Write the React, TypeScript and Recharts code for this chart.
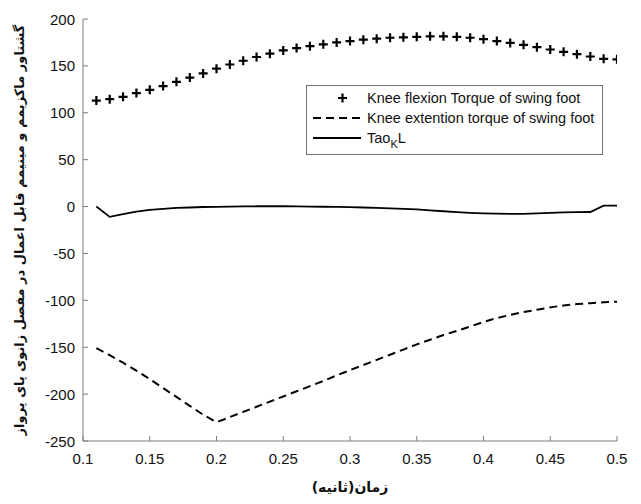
import React from 'react';
import { LineChart, Line, XAxis, YAxis, Label, Customized } from 'recharts';

const times = [0.11, 0.12, 0.13, 0.14, 0.15, 0.16, 0.17, 0.18, 0.19, 0.2,
  0.21, 0.22, 0.23, 0.24, 0.25, 0.26, 0.27, 0.28, 0.29, 0.3,
  0.31, 0.32, 0.33, 0.34, 0.35, 0.36, 0.37, 0.38, 0.39, 0.4,
  0.41, 0.42, 0.43, 0.44, 0.45, 0.46, 0.47, 0.48, 0.49, 0.5];

const flexionTorque = [113, 114.5, 117, 121, 124.5, 128.5, 133, 137.5, 142, 147,
  151.5, 155.5, 159.5, 163, 166.5, 169, 171, 173, 175, 176.5,
  178, 179, 180, 180.5, 181, 181.5, 181.5, 181, 180, 178.5,
  176.5, 174.5, 172.5, 170, 167.5, 165, 162.5, 160, 157.5, 157];

const extensionTorque = [-151, -158.5, -166.5, -175, -184, -193.5, -203, -212.5, -222, -230,
  -224.5, -219, -213.5, -208, -202.5, -197, -191.5, -186, -180, -174.5,
  -169, -163.5, -158, -152.5, -147, -142, -137, -132.5, -128, -123,
  -119, -115.5, -112.5, -110, -107.5, -105.5, -104, -103, -102, -101.5];

const taoKL = [0, -11, -8, -5.5, -3.5, -2.5, -1.5, -1, -0.5, -0.3,
  0, 0.2, 0.3, 0.3, 0.3, 0.2, 0, -0.2, -0.4, -0.6,
  -1, -1.5, -2, -2.5, -3, -4, -5, -6, -6.8, -7.3,
  -7.6, -7.8, -7.7, -7.3, -6.8, -6.3, -6, -5.8, 1, 1];

const xTicks = [0.1, 0.15, 0.2, 0.25, 0.3, 0.35, 0.4, 0.45, 0.5];
const yTicks = [-250, -200, -150, -100, -50, 0, 50, 100, 150, 200];

const legendLabels = ['Knee flexion Torque of swing foot', 'Knee extention torque of swing foot'];
const xLabel = 'زمان(ثانیه)';
const yLabel = 'گشتاور ماکزیمم و مینیمم قابل اعمال در مفصل زانوی پای پرواز';

const data = times.map((t, i) => ({
  t,
  flex: flexionTorque[i],
  ext: extensionTorque[i],
  tao: taoKL[i],
}));

const AXIS_COLOR = '#7a7a7a';
const FONT = 'Liberation Sans, Arial, sans-serif';

const PlusDot = (props: any) => {
  const { cx, cy } = props;
  if (cx == null || cy == null) return null;
  return (
    <path
      d={`M${cx - 4.5},${cy}H${cx + 4.5}M${cx},${cy - 4.5}V${cy + 4.5}`}
      stroke="#000"
      strokeWidth={2.2}
      fill="none"
    />
  );
};

const XTick = (props: any) => {
  const { x, y, payload } = props;
  return (
    <g>
      <line x1={x} y1={y} x2={x} y2={y - 5} stroke={AXIS_COLOR} strokeWidth={1} />
      <text x={x} y={y + 23} textAnchor="middle" fontFamily={FONT} fontSize={15} fill="#111">
        {String(payload.value)}
      </text>
    </g>
  );
};

const YTick = (props: any) => {
  const { x, y, payload } = props;
  return (
    <g>
      <line x1={x} y1={y} x2={x + 5} y2={y} stroke={AXIS_COLOR} strokeWidth={1} />
      <text x={x - 8} y={y + 5.5} textAnchor="end" fontFamily={FONT} fontSize={15} fill="#111">
        {String(payload.value)}
      </text>
    </g>
  );
};

const LegendBox = () => (
  <g transform="translate(298,77)">
    <rect x={0.5} y={0.5} width={296} height={69} fill="#fff" stroke="#6f6f6f" strokeWidth={1} />
    <path d="M32,13H41M36.5,8.5V17.5" stroke="#000" strokeWidth={2.2} />
    <text x={61} y={18} fontFamily={FONT} fontSize={14.5} fill="#111">{legendLabels[0]}</text>
    <line x1={7} y1={33} x2={55} y2={33} stroke="#000" strokeWidth={2} strokeDasharray="8 5" />
    <text x={61} y={38} fontFamily={FONT} fontSize={14.5} fill="#111">{legendLabels[1]}</text>
    <line x1={7} y1={53} x2={55} y2={53} stroke="#000" strokeWidth={1.8} />
    <text x={61} y={58} fontFamily={FONT} fontSize={14.5} fill="#111">
      Tao<tspan fontSize={11} dy={5}>K</tspan><tspan dy={-5}>L</tspan>
    </text>
  </g>
);

export default function App() {
  return (
    <LineChart
      width={625}
      height={488}
      data={data}
      margin={{ top: 11, right: 16, bottom: 25, left: 15 }}
    >
      <XAxis
        dataKey="t"
        type="number"
        domain={[0.1, 0.5]}
        ticks={xTicks}
        allowDataOverflow
        stroke={AXIS_COLOR}
        tickLine={false}
        tickSize={0}
        tickMargin={0}
        height={30}
        tick={<XTick />}
        interval={0}
      >
        <Label
          content={(p: any) => {
            const vb = p.viewBox;
            return (
              <text
                x={vb.x + vb.width / 2}
                y={vb.y + 51}
                textAnchor="middle"
                fontFamily="DejaVu Sans, sans-serif"
                fontWeight="bold"
                fontSize={14}
                fill="#111"
                direction="rtl"
              >
                {xLabel}
              </text>
            );
          }}
        />
      </XAxis>
      <YAxis
        type="number"
        domain={[-250, 200]}
        ticks={yTicks}
        allowDataOverflow
        stroke={AXIS_COLOR}
        tickLine={false}
        tickSize={0}
        tickMargin={0}
        width={60}
        tick={<YTick />}
        interval={0}
      >
        <Label
          content={(p: any) => {
            const vb = p.viewBox;
            const cx = vb.x - 4;
            const cy = vb.y + vb.height / 2;
            return (
              <text
                x={cx}
                y={cy}
                transform={`rotate(-90 ${cx} ${cy})`}
                textAnchor="middle"
                dominantBaseline="central"
                fontFamily="DejaVu Sans, sans-serif"
                fontWeight="bold"
                fontSize={13}
                fill="#111"
                direction="rtl"
              >
                {yLabel}
              </text>
            );
          }}
        />
      </YAxis>
      <Line
        dataKey="flex"
        stroke="none"
        dot={<PlusDot />}
        activeDot={false}
        isAnimationActive={false}
        legendType="none"
      />
      <Line
        dataKey="ext"
        stroke="#000"
        strokeWidth={2}
        strokeDasharray="8 5"
        dot={false}
        activeDot={false}
        type="linear"
        isAnimationActive={false}
      />
      <Line
        dataKey="tao"
        stroke="#000"
        strokeWidth={1.8}
        dot={false}
        activeDot={false}
        type="linear"
        isAnimationActive={false}
      />
      <Customized component={LegendBox} />
    </LineChart>
  );
}
